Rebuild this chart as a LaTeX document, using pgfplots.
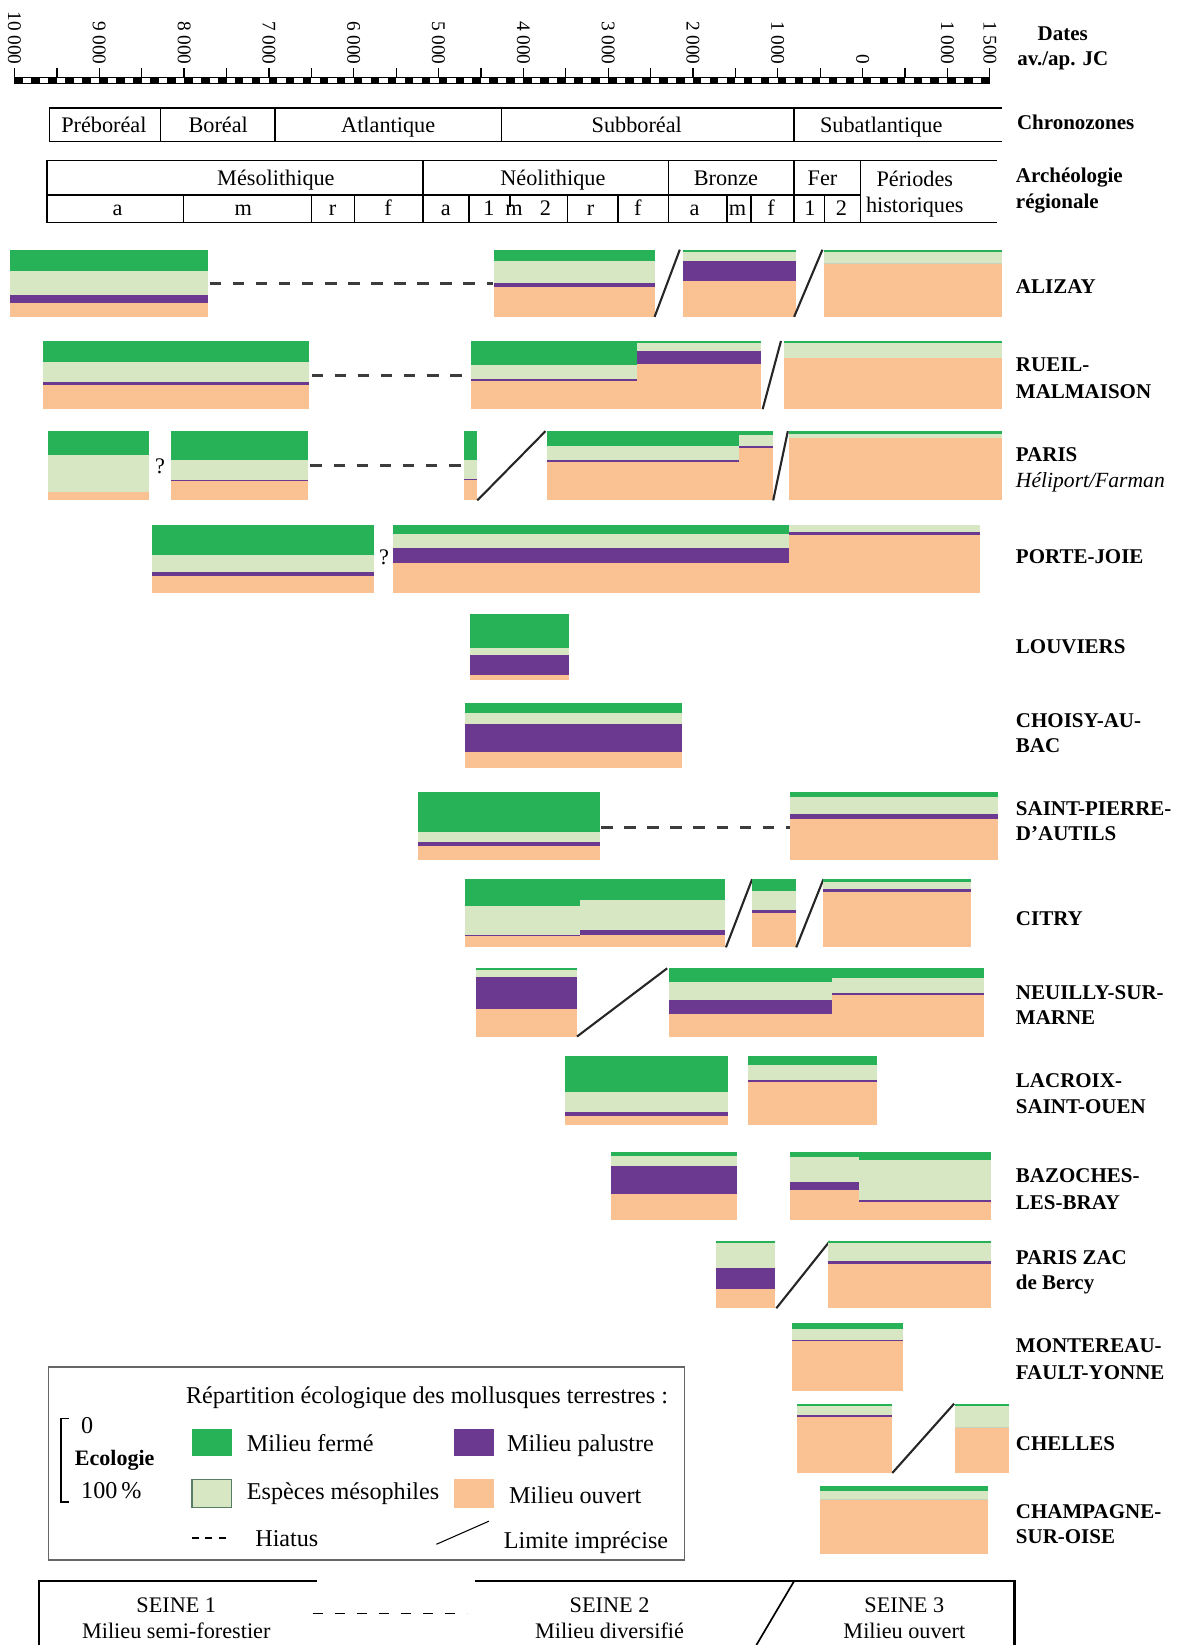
\documentclass[border=0pt]{standalone}
\usepackage{pgfplots}
\pgfplotsset{compat=1.18}
\usepackage{fontspec}
\setmainfont{Liberation Serif}

\definecolor{cF}{HTML}{27B257}% milieu ferme
\definecolor{cM}{HTML}{D7E6C3}% especes mesophiles
\definecolor{cP}{HTML}{6B3A90}% milieu palustre
\definecolor{cO}{HTML}{FAC293}% milieu ouvert
\definecolor{hiat}{HTML}{3C3C3C}

% one coloured layer of a block: x from #1 to #2 (years), from #3 % to #4 % of the row
\newcommand{\seg}[5]{%
  \pgfmathsetmacro\ya{\rt+\rh*#3/100}%
  \pgfmathsetmacro\yb{\rt+\rh*#4/100}%
  \addplot[draw=none, fill=#5] coordinates {(#1,\ya) (#2,\ya) (#2,\yb) (#1,\yb)} -- cycle;}
% block: ferme 0-#3, mesophiles #3-#4, palustre #4-#5, ouvert #5-100
\newcommand{\blk}[5]{%
  \seg{#1}{#2}{0}{#3}{cF}\seg{#1}{#2}{#3}{#4}{cM}%
  \seg{#1}{#2}{#4}{#5}{cP}\seg{#1}{#2}{#5}{100}{cO}}

\newcommand{\fh}{\fontsize{10.6}{12}\selectfont}
\newcommand{\fs}{\fontsize{10}{12}\selectfont\bfseries}
\newcommand{\fl}{\fontsize{11.5}{13}\selectfont}

\begin{document}
\begin{tikzpicture}
\begin{axis}[
  width=561pt, height=784pt, scale only axis,
  xmin=-10171, xmax=3709, ymin=0, ymax=1568, y dir=reverse,
  axis lines=none, clip=false,
  hiatus/.style={hiat, line width=1.4pt, dash pattern=on 5.5pt off 5.5pt},
  slash/.style={black!85, line width=1pt},
]
% ALIZAY
\def\rt{238}\def\rh{64}
\blk{-10050}{-7720}{32}{68}{80}
\addplot[hiatus] coordinates {(-7700,270) (-4360,270)};
\blk{-4345}{-2452}{17}{50}{56}
\addplot[slash] coordinates {(-2452,302) (-2155,238)};
\blk{-2118}{-782}{4}{17}{47}
\addplot[slash] coordinates {(-807,302) (-473,238)};
\blk{-455}{1640}{3}{21}{21}
% RUEIL-MALMAISON
\def\rt{325}\def\rh{65}
\blk{-9664}{-6522}{30.5}{60.5}{64}
\addplot[hiatus] coordinates {(-6497,357.5) (-4617,357.5)};
\blk{-4617}{-2662}{35}{56}{58}
\blk{-2662}{-1203}{3.5}{14}{34}
\addplot[slash] coordinates {(-1178,390) (-962,325)};
\blk{-931}{1640}{3.5}{25}{25}
% PARIS Heliport/Farman
\def\rt{411}\def\rh{66}
\blk{-9607}{-8419}{35}{88}{88}
\blk{-8155}{-6534}{41.5}{70}{72}
\addplot[hiatus] coordinates {(-6510,444) (-4716,444)};
\blk{-4697}{-4543}{41.5}{69}{71}
\addplot[slash] coordinates {(-4543,477) (-3739,411)};
\blk{-3726}{-1456}{21}{41.5}{45}
\blk{-1456}{-1054}{5}{21}{25}
\addplot[slash] coordinates {(-1054,477) (-881,411)};
\blk{-869}{1650}{3.5}{10}{10}
% PORTE-JOIE
\def\rt{500}\def\rh{65}
\blk{-8377}{-5761}{45}{70}{76}
\blk{-5532}{-869}{14}{35}{56}
\blk{-869}{1383}{1}{11.5}{16}
% LOUVIERS
\def\rt{585}\def\rh{63}
\blk{-4629}{-3466}{52}{62}{93}
% CHOISY-AU-BAC
\def\rt{670}\def\rh{62}
\blk{-4685}{-2130}{15}{32}{75.5}
% SAINT-PIERRE-D'AUTILS
\def\rt{755}\def\rh{65}
\blk{-5242}{-3098}{59}{72.5}{79}
\addplot[hiatus] coordinates {(-3083,789) (-856,789)};
\blk{-856}{1593}{7}{32}{40}
% CITRY
\def\rt{838}\def\rh{65}
\blk{-4691}{-3330}{39}{81.5}{83}
\blk{-3330}{-1623}{31}{75}{82}
\addplot[slash] coordinates {(-1611,903) (-1302,838)};
\blk{-1302}{-782}{17}{45}{49}
\addplot[slash] coordinates {(-782,903) (-461,838)};
\blk{-461}{1280}{3.5}{14}{19}
% NEUILLY-SUR-MARNE
\def\rt{923}\def\rh{65}
\blk{-4560}{-3367}{3}{13}{59}
\addplot[slash] coordinates {(-3367,988) (-2304,923)};
\blk{-2285}{-362}{20.6}{47}{67}
\blk{-362}{1428}{14}{36.5}{39}
% LACROIX-SAINT-OUEN
\def\rt{1007}\def\rh{65}
\blk{-3508}{-1590}{52}{81}{87}
\blk{-1351}{167}{12}{34}{37}
% BAZOCHES-LES-BRAY
\def\rt{1098}\def\rh{65}
\blk{-2972}{-1475}{6}{21}{61}
\blk{-856}{-40}{7}{44}{56}
\blk{-40}{1519}{12}{71}{73}
% PARIS ZAC de Bercy
\def\rt{1183}\def\rh{64}
\blk{-1728}{-1030}{3}{40}{72}
\addplot[slash] coordinates {(-1017,1247) (-386,1183)};
\blk{-404}{1519}{3.5}{30}{34}
% MONTEREAU-FAULT-YONNE
\def\rt{1261}\def\rh{65}
\blk{-835}{473}{9}{25}{26.5}
% CHELLES
\def\rt{1338}\def\rh{66}
\blk{-776}{351}{3.3}{16}{19.5}
\addplot[slash] coordinates {(351,1404) (1079,1338)};
\blk{1091}{1730}{4}{35}{35}
% CHAMPAGNE-SUR-OISE
\def\rt{1416}\def\rh{65}
\blk{-501}{1482}{8.3}{20.6}{20.6}
\end{axis}

% frame, headers and legend in picture units (1 unit = 0.5pt, y downwards)
\begin{scope}[x=0.5pt, y=-0.5pt, shift={(0pt,784pt)}, every node/.style={inner sep=0pt}]
  % time ruler
  \foreach \i in {0,...,114}{
    \pgfmathsetmacro\xa{(\i*100+171)*0.080836}
    \pgfmathsetmacro\xb{(\i*100+271)*0.080836}
    \pgfmathtruncatemacro\odd{mod(\i,2)}
    \ifnum\odd=0 \fill[black] (\xa,74) rectangle (\xb,80);\fi
  }
  \draw[line width=0.4pt] (13.82,74) rectangle (943.4,80);
  \foreach \t in {0,500,...,11500}{
    \pgfmathsetmacro\xx{(\t+171)*0.080836}
    \draw[line width=0.6pt] (\xx,65) -- (\xx,74);
  }
  \foreach \t/\l in {0/10 000,1000/9 000,2000/8 000,3000/7 000,4000/6 000,5000/5 000,
      6000/4 000,7000/3 000,8000/2 000,9000/1 000,10000/0,11000/1 000,11500/1 500}{
    \pgfmathsetmacro\xx{(\t+171)*0.080836}
    \node[rotate=-90, anchor=east, font=\fontsize{9.2}{11}\selectfont] at (\xx,62) {\l};
  }
  \node[font=\fs, anchor=base] at (1013,39) {Dates};
  \node[font=\fs, anchor=base] at (1013,62) {av./ap. JC};

  % chronozones
  \draw[line width=0.7pt] (955,103) -- (47,103) -- (47,135) -- (955,135);
  \foreach \x in {153,262,478,757} \draw[line width=0.7pt] (\x,103) -- (\x,135);
  \foreach \x/\l in {99/Préboréal,208/Boréal,370/Atlantique,607/Subboréal,840/Subatlantique}
    \node[font=\fh, anchor=base] at (\x,126) {\l};
  \node[font=\fs, anchor=base west] at (969,123) {Chronozones};

  % archeologie regionale
  \draw[line width=0.7pt] (950,153) -- (45,153) -- (45,212) -- (950,212);
  \draw[line width=0.7pt] (45,186) -- (820,186);
  \foreach \x in {403,637,757,820} \draw[line width=0.7pt] (\x,153) -- (\x,212);
  \foreach \x in {175,297,338,447,541,589,693,716,786} \draw[line width=0.7pt] (\x,186) -- (\x,212);
  \draw[line width=0.6pt] (486,186) -- (486,197);
  \foreach \x/\l in {263/Mésolithique,527/Néolithique,692/Bronze,784/Fer}
    \node[font=\fh, anchor=base] at (\x,177) {\l};
  \node[font=\fh, anchor=base] at (872,178) {Périodes};
  \node[font=\fh, anchor=base] at (872,203) {historiques};
  \foreach \x/\l in {112/a,232/m,317/r,370/f,425/a,466/1,490/m,520/2,563/r,608/f,662/a,703/m,735/f,772/1,802/2}
    \node[font=\fh, anchor=base] at (\x,205) {\l};
  \node[font=\fs, anchor=base west] at (968,174) {Archéologie};
  \node[font=\fs, anchor=base west] at (968,199) {régionale};

  % question marks
  \node[font=\fh, anchor=base] at (152.5,451) {?};
  \node[font=\fh, anchor=base] at (366,538) {?};

  % site names
  \foreach \y/\l in {273/ALIZAY,348/RUEIL-,373/MALMAISON,433/PARIS,531/PORTE-JOIE,616/LOUVIERS,
      687/CHOISY-AU-,711/BAC,771/SAINT-PIERRE-,795/D’AUTILS,876/CITRY,946/NEUILLY-SUR-,970/MARNE,
      1030/LACROIX-,1055/SAINT-OUEN,1121/BAZOCHES-,1146/LES-BRAY,1199/PARIS ZAC,1224/de Bercy,
      1283/MONTEREAU-,1308/FAULT-YONNE,1376/CHELLES,1441/CHAMPAGNE-,1465/SUR-OISE}
    \node[font=\fs, anchor=west] at (968,\y) {\l};
  \node[font=\fontsize{10.3}{12}\selectfont\itshape, anchor=base west] at (968,465) {Héliport/Farman};

  % legend
  \draw[black!60, line width=0.5pt] (46,1303) rectangle (652,1487);
  \node[font=\fl, anchor=base west] at (177,1338) {Répartition écologique des mollusques terrestres :};
  \draw[line width=0.8pt] (66,1352) -- (58,1352) -- (58,1432) -- (66,1432);
  \node[font=\fl, anchor=base west] at (77,1366) {0};
  \node[font=\fontsize{10.5}{12}\selectfont\bfseries, anchor=base west] at (71,1397) {Ecologie};
  \node[font=\fl, anchor=base west] at (77,1428) {100\,\%};
  \fill[cF] (183,1362) rectangle (221,1388);
  \node[font=\fl, anchor=base west] at (235,1384) {Milieu fermé};
  \fill[cP] (433,1362) rectangle (471,1388);
  \node[font=\fl, anchor=base west] at (483,1384) {Milieu palustre};
  \filldraw[fill=cM, draw=cF!40!black!70, line width=0.6pt] (183,1410) rectangle (221,1437);
  \node[font=\fl, anchor=base west] at (235,1429) {Espèces mésophiles};
  \fill[cO] (433,1410) rectangle (471,1437);
  \node[font=\fl, anchor=base west] at (485,1433) {Milieu ouvert};
  \draw[line width=0.6pt, dash pattern=on 3.3pt off 3.05pt] (183,1466) -- (215,1466);
  \node[font=\fl, anchor=base west] at (243,1474) {Hiatus};
  \draw[line width=0.5pt] (416,1472) -- (466,1450);
  \node[font=\fl, anchor=base west] at (480,1476) {Limite imprécise};

  % Seine phases
  \draw[line width=1pt] (37,1568) -- (37,1507) -- (302,1507);
  \draw[line width=1pt] (453,1507) -- (967,1507) -- (967,1568);
  \draw[line width=0.8pt] (757,1507) -- (721,1568);
  \draw[line width=0.6pt, dash pattern=on 5pt off 5.5pt] (298,1538) -- (445,1538);
  \node[font=\fh, anchor=base] at (168,1537) {SEINE 1};
  \node[font=\fh, anchor=base] at (168,1562) {Milieu semi-forestier};
  \node[font=\fh, anchor=base] at (581,1537) {SEINE 2};
  \node[font=\fh, anchor=base] at (581,1562) {Milieu diversifié};
  \node[font=\fh, anchor=base] at (862,1537) {SEINE 3};
  \node[font=\fh, anchor=base] at (862,1562) {Milieu ouvert};

  \pgfresetboundingbox
  \path[use as bounding box] (0,0) rectangle (1122,1568);
\end{scope}
\end{tikzpicture}
\end{document}
